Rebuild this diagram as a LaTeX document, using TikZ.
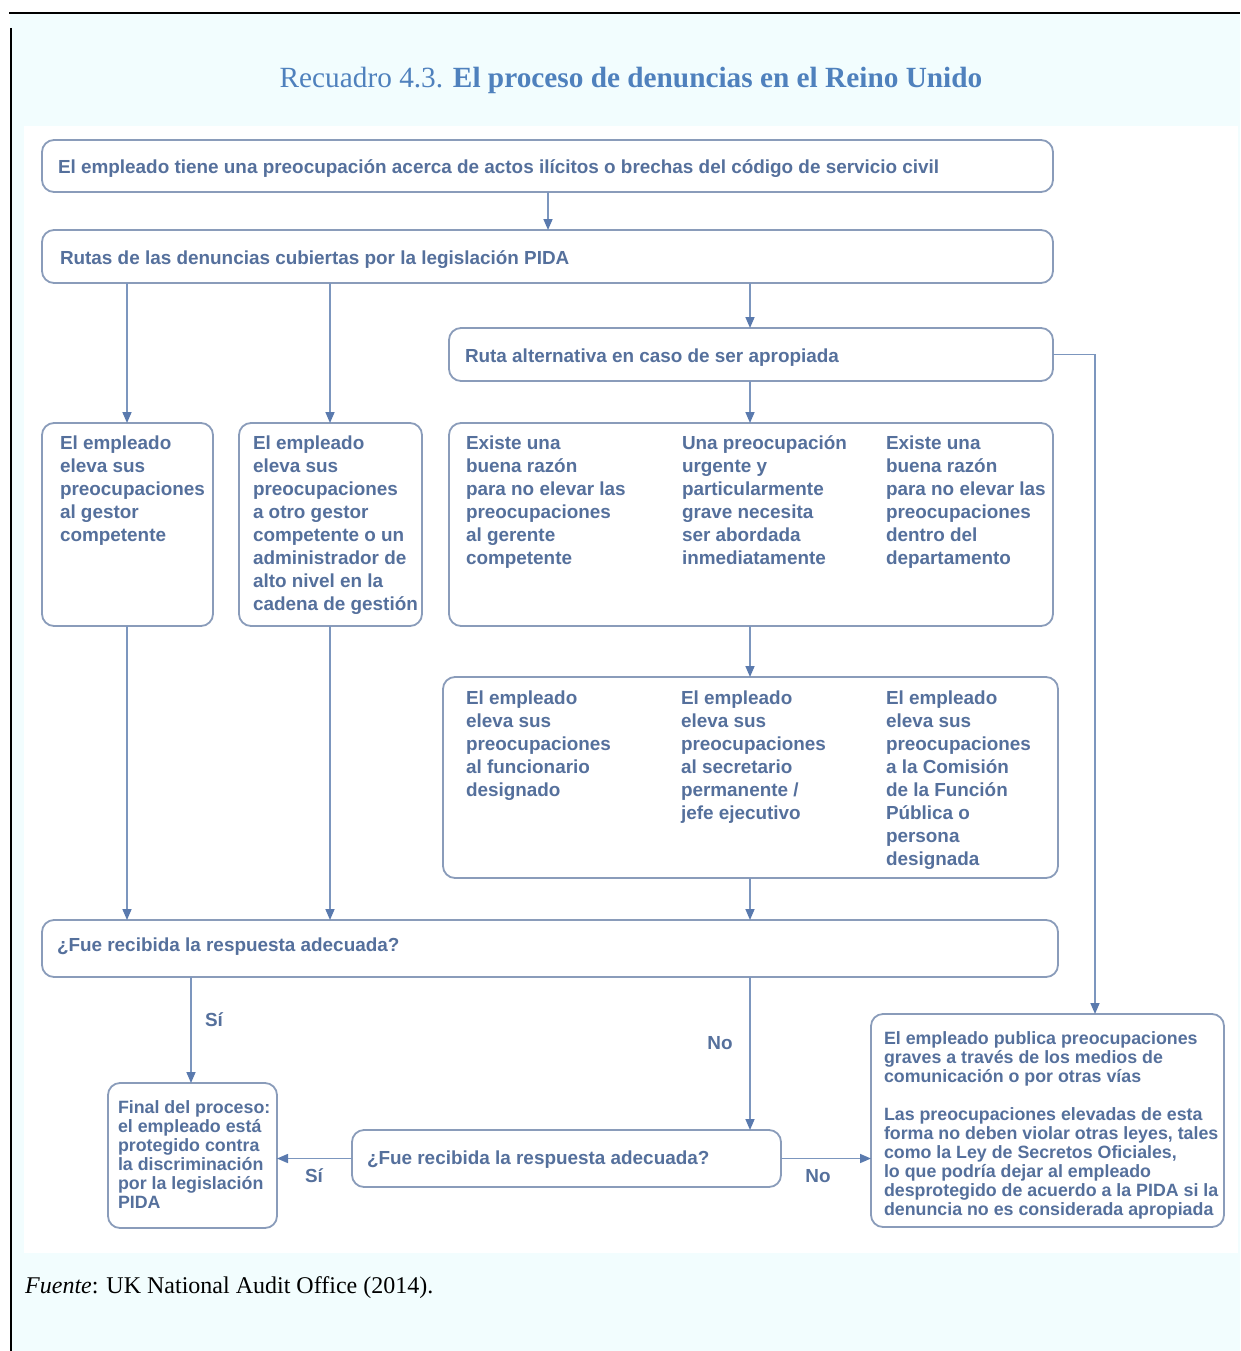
\documentclass[tikz,border=0pt]{standalone}
\usepackage{fontspec}
\setmainfont{Liberation Serif}
\newfontfamily\arialf{Liberation Sans}
\usetikzlibrary{arrows.meta}
\definecolor{ttlc}{HTML}{4F81BD}
\definecolor{txtc}{HTML}{55709C}
\definecolor{boxc}{HTML}{8A9CBA}
\definecolor{linec}{HTML}{7C96BE}
\definecolor{tipc}{HTML}{5A7AAE}
\definecolor{bgc}{HTML}{F2FDFE}
\newcommand\mkbox[5]{\node[bx, minimum width={#4-#2}, minimum height={#5-#3}] (#1) at ({(#2+#4)/2},{(#3+#5)/2}) {};}
\begin{document}
\begin{tikzpicture}[x=1pt,y=-1pt,
  bx/.style={draw=boxc, line width=1.8pt, rounded corners=12pt, fill=white, inner sep=0pt, outer sep=0pt},
  txt/.style={anchor=north west, inner sep=0pt, outer sep=0pt, align=left, text=txtc,
    font=\arialf\bfseries\fontsize{18.9}{23}\selectfont, execute at begin node=\strut},
  txts/.style={txt, font=\arialf\bfseries\fontsize{17.8}{19}\selectfont},
  lbl/.style={inner sep=0pt, text=txtc, font=\arialf\bfseries\fontsize{18.9}{23}\selectfont},
  arr/.style={draw=linec, line width=1.6pt, -{Triangle[length=11pt,width=9pt,color=tipc,fill=tipc]}}
]
\useasboundingbox (0,0) rectangle (1240,1351);
\fill[white] (0,0) rectangle (1240,1351);
\fill[bgc] (10,14) rectangle (1240,1351);
\draw[black, line width=2.2pt] (9,13) -- (1240,13);
\draw[black, line width=2.2pt] (11,28) -- (11,1351);
\fill[white] (24,126) rectangle (1238,1253);

% title and source
\node[anchor=base, inner sep=0pt, text=ttlc, font=\fontsize{29.3}{34}\selectfont] (title) at (631,88)
  {Recuadro 4.3. \textbf{El proceso de denuncias en el Reino Unido}};
\node[anchor=base west, inner sep=0pt, font=\fontsize{24}{28}\selectfont] (src) at (25,1293)
  {\textit{Fuente}: UK National Audit Office (2014).};

% boxes
\mkbox{A}{42}{140}{1053}{192}
\mkbox{B}{42}{230}{1053}{283}
\mkbox{C}{449}{328}{1053}{381}
\mkbox{D}{42}{423}{213}{626}
\mkbox{E}{239}{423}{422}{626}
\mkbox{F}{449}{423}{1053}{626}
\mkbox{G}{443}{677}{1058}{878}
\mkbox{H}{42}{920}{1058}{977}
\mkbox{I}{108}{1083}{277}{1228}
\mkbox{J}{352}{1130}{781}{1187}
\mkbox{K}{871}{1014}{1224}{1227}

% texts (north = baseline - strut height)
\node[txt] (tA) at (58,157.4) {El empleado tiene una preocupación acerca de actos ilícitos o brechas del código de servicio civil};
\node[txt] (tB) at (60,248.4) {Rutas de las denuncias cubiertas por la legislación PIDA};
\node[txt] (tC) at (465,346.4) {Ruta alternativa en caso de ser apropiada};
\node[txt] (tD) at (60,435.4) {El empleado\\eleva sus\\preocupaciones\\al gestor\\competente};
\node[txt] (tE) at (253,435.4) {El empleado\\eleva sus\\preocupaciones\\a otro gestor\\competente o un\\administrador de\\alto nivel en la\\cadena de gestión};
\node[txt] (tF1) at (466,435.4) {Existe una\\buena razón\\para no elevar las\\preocupaciones\\al gerente\\competente};
\node[txt] (tF2) at (682,435.4) {Una preocupación\\urgente y\\particularmente\\grave necesita\\ser abordada\\inmediatamente};
\node[txt] (tF3) at (886,435.4) {Existe una\\buena razón\\para no elevar las\\preocupaciones\\dentro del\\departamento};
\node[txt] (tG1) at (466,690.4) {El empleado\\eleva sus\\preocupaciones\\al funcionario\\designado};
\node[txt] (tG2) at (681,690.4) {El empleado\\eleva sus\\preocupaciones\\al secretario\\permanente /\\jefe ejecutivo};
\node[txt] (tG3) at (886,690.4) {El empleado\\eleva sus\\preocupaciones\\a la Comisión\\de la Función\\Pública o\\persona\\designada};
\node[txt] (tH) at (57,935.4) {¿Fue recibida la respuesta adecuada?};
\node[txt] (tJ) at (367,1148.4) {¿Fue recibida la respuesta adecuada?};
\node[txts] (tI) at (118,1100.7) {Final del proceso:\\el empleado está\\protegido contra\\la discriminación\\por la legislación\\PIDA};
\node[txts] (tK) at (884,1031.7) {El empleado publica preocupaciones\\graves a través de los medios de\\comunicación o por otras vías\\[19pt]Las preocupaciones elevadas de esta\\forma no deben violar otras leyes, tales\\como la Ley de Secretos Oficiales,\\lo que podría dejar al empleado\\desprotegido de acuerdo a la PIDA si la\\denuncia no es considerada apropiada};

% x positions of vertical connectors
\coordinate (x548) at (548,0);
\coordinate (x330) at (330,0);
\coordinate (x750) at (750,0);
\coordinate (x1095) at (1095,0);
\coordinate (x191) at (191,0);
\coordinate (x127) at (127,0);

% connectors
\draw[arr] (A.south -| x548) -- (B.north -| x548);
\draw[arr] (B.south -| x127) -- (D.north -| x127);
\draw[arr] (B.south -| x330) -- (E.north -| x330);
\draw[arr] (B.south -| x750) -- (C.north -| x750);
\draw[arr] (C.east) -| (K.north -| x1095);
\draw[arr] (C.south -| x750) -- (F.north -| x750);
\draw[arr] (F.south -| x750) -- (G.north -| x750);
\draw[arr] (D.south -| x127) -- (H.north -| x127);
\draw[arr] (E.south -| x330) -- (H.north -| x330);
\draw[arr] (G.south -| x750) -- (H.north -| x750);
\draw[arr] (H.south -| x191) -- (I.north -| x191);
\draw[arr] (H.south -| x750) -- (J.north -| x750);
\draw[arr] (J.west) -- (I.east |- J.west);
\draw[arr] (J.east) -- (K.west |- J.east);

% labels
\node[lbl] (l1) at (214,1020) {Sí};
\node[lbl] (l2) at (720,1043) {No};
\node[lbl] (l3) at (314,1176) {Sí};
\node[lbl] (l4) at (818,1176) {No};
\end{tikzpicture}
\end{document}
